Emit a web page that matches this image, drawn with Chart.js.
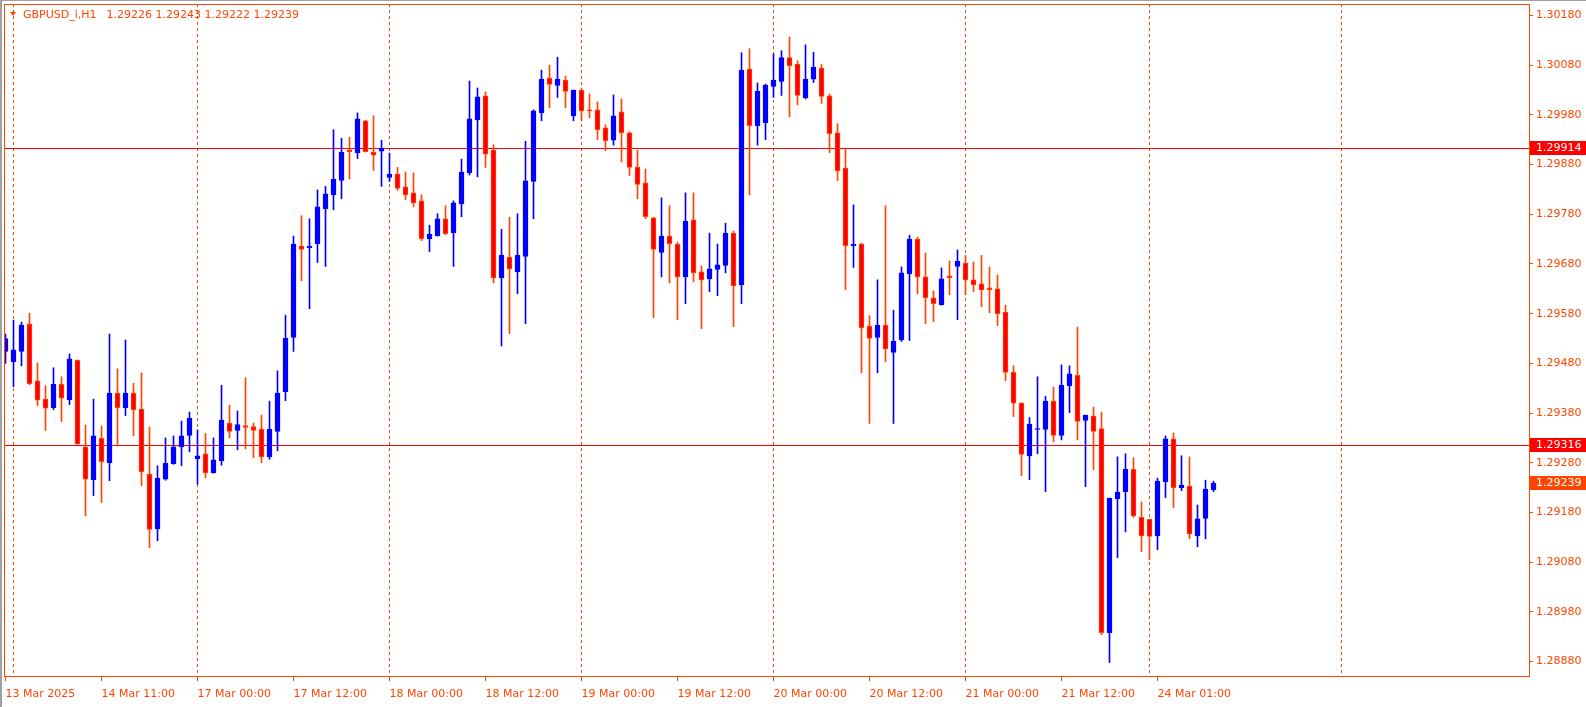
<!DOCTYPE html>
<html>
<head>
<meta charset="utf-8">
<script src="https://cdn.jsdelivr.net/npm/chart.js@4.4.1/dist/chart.umd.min.js"></script>
<style>
html, body { margin: 0; padding: 0; background: #fff; overflow: hidden; }
canvas { display: block; }
</style>
</head>
<body>
<canvas id="chart" width="1586" height="707"></canvas>
<script>
const symbol = 'GBPUSD_i,H1';

// hourly candles, 13 Mar 23:00 .. 24 Mar 08:00
const opens = [
  1.29504,1.29483,1.29504,1.29559,1.29445,1.29408,1.29391,1.29438,1.29407,1.29486,
  1.29312,1.29246,1.29329,1.29280,1.29420,1.29391,1.29420,1.29388,1.29257,1.29147,
  1.29247,1.29278,1.29312,1.29335,1.29288,1.29298,1.29260,1.29284,1.29360,1.29345,
  1.29355,1.29353,1.29348,1.29292,1.29343,1.29423,1.29532,1.29716,1.29713,1.29721,
  1.29791,1.29819,1.29848,1.29909,1.29904,1.29968,1.29905,1.29907,1.29854,1.29861,
  1.29835,1.29823,1.29807,1.29731,1.29737,1.29771,1.29743,1.29801,1.29863,1.29970,
  1.30018,1.29909,1.29652,1.29694,1.29664,1.29695,1.29846,1.29984,1.30054,1.30039,
  1.30050,1.29978,1.30030,1.29990,1.29990,1.29954,1.29929,1.29986,1.29944,1.29875,
  1.29843,1.29773,1.29703,1.29736,1.29720,1.29654,1.29769,1.29664,1.29650,1.29669,
  1.29677,1.29742,1.29638,1.30072,1.29958,1.29964,1.30037,1.30047,1.30095,1.30082,
  1.30014,1.30052,1.30074,1.30018,1.29944,1.29873,1.29717,1.29720,1.29555,1.29532,
  1.29557,1.29502,1.29527,1.29660,1.29730,1.29654,1.29612,1.29598,1.29656,1.29675,
  1.29682,1.29648,1.29640,1.29632,1.29630,1.29583,1.29462,1.29400,1.29294,1.29347,
  1.29347,1.29404,1.29335,1.29435,1.29456,1.29365,1.29374,1.29349,1.28938,1.29208,
  1.29222,1.29267,1.29170,1.29166,1.29133,1.29242,1.29328,1.29230,1.29233,1.29133,
  1.29168,1.29226
];
const highs = [
  1.29539,1.29567,1.29563,1.29581,1.29481,1.29435,1.29471,1.29453,1.29499,1.29487,
  1.29356,1.29408,1.29354,1.29539,1.29469,1.29527,1.29440,1.29461,1.29352,1.29274,
  1.29330,1.29334,1.29364,1.29382,1.29346,1.29339,1.29330,1.29436,1.29396,1.29384,
  1.29451,1.29360,1.29376,1.29404,1.29465,1.29577,1.29736,1.29777,1.29771,1.29829,
  1.29836,1.29950,1.29933,1.29935,1.29984,1.29969,1.29978,1.29929,1.29903,1.29874,
  1.29865,1.29863,1.29819,1.29758,1.29781,1.29797,1.29807,1.29891,1.30048,1.30034,
  1.30026,1.29920,1.29750,1.29774,1.29781,1.29927,1.29990,1.30070,1.30080,1.30096,
  1.30058,1.30030,1.30034,1.30022,1.30006,1.29960,1.30020,1.30012,1.29946,1.29909,
  1.29871,1.29774,1.29813,1.29797,1.29724,1.29823,1.29823,1.29676,1.29742,1.29720,
  1.29762,1.29746,1.30105,1.30113,1.30044,1.30042,1.30103,1.30109,1.30137,1.30089,
  1.30121,1.30106,1.30082,1.30022,1.29962,1.29911,1.29799,1.29722,1.29576,1.29648,
  1.29797,1.29587,1.29674,1.29738,1.29734,1.29702,1.29626,1.29672,1.29686,1.29708,
  1.29697,1.29684,1.29697,1.29674,1.29658,1.29597,1.29475,1.29401,1.29371,1.29453,
  1.29414,1.29432,1.29477,1.29475,1.29553,1.29376,1.29392,1.29382,1.29209,1.29292,
  1.29298,1.29290,1.29201,1.29166,1.29249,1.29334,1.29340,1.29294,1.29292,1.29195,
  1.29245,1.29243
];
const lows = [
  1.29480,1.29433,1.29475,1.29437,1.29395,1.29345,1.29387,1.29363,1.29397,1.29317,
  1.29173,1.29214,1.29200,1.29244,1.29317,1.29375,1.29334,1.29234,1.29109,1.29123,
  1.29245,1.29277,1.29274,1.29302,1.29237,1.29250,1.29259,1.29275,1.29330,1.29306,
  1.29308,1.29290,1.29280,1.29287,1.29304,1.29405,1.29504,1.29646,1.29590,1.29683,
  1.29675,1.29789,1.29811,1.29851,1.29892,1.29905,1.29868,1.29836,1.29846,1.29828,
  1.29809,1.29795,1.29727,1.29705,1.29736,1.29739,1.29675,1.29775,1.29859,1.29855,
  1.29874,1.29642,1.29515,1.29540,1.29620,1.29560,1.29771,1.29968,1.29994,1.30015,
  1.29994,1.29968,1.29968,1.29974,1.29930,1.29908,1.29919,1.29885,1.29858,1.29811,
  1.29771,1.29572,1.29654,1.29642,1.29568,1.29600,1.29644,1.29550,1.29624,1.29616,
  1.29662,1.29554,1.29600,1.29819,1.29919,1.29930,1.30015,1.30019,1.29976,1.30000,
  1.30012,1.30045,1.30003,1.29904,1.29848,1.29628,1.29673,1.29461,1.29359,1.29461,
  1.29483,1.29359,1.29524,1.29526,1.29620,1.29560,1.29564,1.29597,1.29618,1.29568,
  1.29618,1.29624,1.29594,1.29582,1.29556,1.29445,1.29373,1.29254,1.29246,1.29298,
  1.29222,1.29322,1.29326,1.29381,1.29326,1.29232,1.29266,1.28934,1.28878,1.29089,
  1.29141,1.29170,1.29101,1.29085,1.29105,1.29210,1.29190,1.29224,1.29127,1.29111,
  1.29127,1.29222
];
const closes = [
  1.29530,1.29507,1.29557,1.29439,1.29406,1.29390,1.29438,1.29410,1.29489,1.29318,
  1.29247,1.29334,1.29282,1.29420,1.29391,1.29420,1.29387,1.29262,1.29146,1.29249,
  1.29279,1.29312,1.29334,1.29370,1.29294,1.29260,1.29286,1.29366,1.29343,1.29357,
  1.29351,1.29345,1.29292,1.29348,1.29420,1.29531,1.29720,1.29709,1.29716,1.29795,
  1.29821,1.29851,1.29905,1.29906,1.29972,1.29906,1.29899,1.29913,1.29861,1.29832,
  1.29819,1.29803,1.29731,1.29740,1.29771,1.29741,1.29803,1.29865,1.29972,1.30016,
  1.29901,1.29652,1.29698,1.29670,1.29698,1.29847,1.29988,1.30052,1.30041,1.30052,
  1.30027,1.30030,1.29988,1.29988,1.29950,1.29928,1.29978,1.29944,1.29874,1.29840,
  1.29775,1.29709,1.29736,1.29721,1.29654,1.29766,1.29662,1.29648,1.29670,1.29678,
  1.29742,1.29636,1.30070,1.29958,1.30028,1.30040,1.30050,1.30095,1.30079,1.30019,
  1.30052,1.30076,1.30017,1.29942,1.29867,1.29717,1.29720,1.29552,1.29530,1.29557,
  1.29509,1.29525,1.29662,1.29730,1.29654,1.29612,1.29600,1.29650,1.29652,1.29686,
  1.29648,1.29638,1.29628,1.29628,1.29580,1.29462,1.29400,1.29297,1.29358,1.29349,
  1.29404,1.29335,1.29436,1.29459,1.29363,1.29376,1.29343,1.28938,1.29209,1.29221,
  1.29267,1.29173,1.29133,1.29132,1.29243,1.29328,1.29230,1.29235,1.29137,1.29167,
  1.29227,1.29239
];

// time axis: bar index of each label, and day separators
const tickIdx = [0, 12, 24, 36, 48, 60, 72, 84, 96, 108, 120, 132, 144];
const tickLabels = ['13 Mar 2025', '14 Mar 11:00', '17 Mar 00:00', '17 Mar 12:00', '18 Mar 00:00',
  '18 Mar 12:00', '19 Mar 00:00', '19 Mar 12:00', '20 Mar 00:00', '20 Mar 12:00',
  '21 Mar 00:00', '21 Mar 12:00', '24 Mar 01:00'];
const daySeparators = [1, 24, 48, 72, 96, 120, 143, 167];

const priceTicks = [1.2888, 1.2898, 1.2908, 1.2918, 1.2928, 1.2938, 1.2948,
  1.2958, 1.2968, 1.2978, 1.2988, 1.2998, 1.3008, 1.3018];
const levelLines = [1.29914, 1.29316];

const orange = '#ff4500';
const bull = '#0000ff';
const bearFill = '#ff0000';
const levelColor = '#ff0000';
const font = {family: 'DejaVu Sans', size: 11};
const clear = 'rgba(0,0,0,0)';

const isBull = i => closes[i] >= opens[i];

const mtDecor = {
  id: 'mtDecor',
  beforeDatasetsDraw(chart) {
    const {ctx, chartArea: a, scales: {y}} = chart;
    ctx.save();
    ctx.strokeStyle = levelColor;
    ctx.lineWidth = 1;
    levelLines.forEach(v => {
      const py = Math.round(y.getPixelForValue(v)) + 0.5;
      ctx.beginPath();
      ctx.moveTo(a.left, py);
      ctx.lineTo(a.right, py);
      ctx.stroke();
    });
    ctx.restore();
  },
  afterDraw(chart) {
    const {ctx, chartArea: a, scales: {y}, width, height} = chart;
    ctx.save();
    // window edges
    ctx.fillStyle = '#a0a0a0';
    ctx.fillRect(0, 0, width, 1);
    ctx.fillRect(0, 0, 2, height);
    // frame
    ctx.strokeStyle = orange;
    ctx.lineWidth = 1;
    ctx.strokeRect(a.left + 0.5, a.top + 0.5, a.right - a.left, a.bottom - a.top);

    ctx.font = font.size + 'px "' + font.family + '"';
    ctx.textBaseline = 'middle';
    const box = (v, bg) => {
      const py = Math.round(y.getPixelForValue(v));
      ctx.fillStyle = bg;
      ctx.fillRect(a.right + 1, py - 7, width - a.right - 1, 14);
      ctx.fillStyle = '#ffffff';
      ctx.textAlign = 'left';
      ctx.fillText(v.toFixed(5), a.right + 7, py + 0.5);
    };
    levelLines.forEach(v => box(v, levelColor));
    const last = closes.length - 1;
    box(closes[last], orange);

    // title
    ctx.fillStyle = orange;
    ctx.beginPath();
    ctx.moveTo(a.left + 6, a.top + 8);
    ctx.lineTo(a.left + 12, a.top + 8);
    ctx.lineTo(a.left + 9, a.top + 12);
    ctx.closePath();
    ctx.fill();
    const tx = a.left + 19;
    const ty = a.top + 11;
    ctx.fillText(symbol, tx, ty);
    const vals = [opens[last], highs[last], lows[last], closes[last]].map(v => v.toFixed(5)).join(' ');
    ctx.fillText(vals, tx + ctx.measureText(symbol).width + 10, ty);
    ctx.restore();
  }
};

new Chart(document.getElementById('chart'), {
  type: 'bar',
  data: {
    datasets: [
      {
        label: 'wick',
        data: opens.map((o, i) => ({x: i, y: [lows[i], highs[i]]})),
        backgroundColor: c => isBull(c.dataIndex) ? bull : orange,
        borderWidth: 0,
        barThickness: 1,
        maxBarThickness: 1,
        grouped: false,
        order: 2
      },
      {
        label: 'body',
        data: opens.map((o, i) => ({x: i, y: [o, closes[i]]})),
        backgroundColor: c => isBull(c.dataIndex) ? bull : bearFill,
        borderColor: c => isBull(c.dataIndex) ? bull : orange,
        borderWidth: 1,
        borderSkipped: false,
        barThickness: 5,
        maxBarThickness: 5,
        minBarLength: 1,
        grouped: false,
        order: 1
      }
    ]
  },
  options: {
    responsive: false,
    devicePixelRatio: 1,
    animation: false,
    layout: {padding: {left: 4, top: 4, right: 0, bottom: 0}},
    plugins: {legend: {display: false}, tooltip: {enabled: false}},
    scales: {
      x: {
        type: 'linear',
        position: 'bottom',
        min: -0.1875,
        max: 190.4375,
        offset: false,
        afterBuildTicks: s => {
          s.ticks = [...new Set([...tickIdx, ...daySeparators])].sort((p, q) => p - q).map(v => ({value: v}));
        },
        afterFit: s => { s.height = 31; s.paddingLeft = 0; s.paddingRight = 0; },
        ticks: {
          autoSkip: false,
          maxRotation: 0,
          minRotation: 0,
          align: 'start',
          padding: 7,
          color: orange,
          font: font,
          callback: v => {
            const k = tickIdx.indexOf(v);
            return k >= 0 ? tickLabels[k] : '';
          }
        },
        grid: {
          offset: false,
          drawOnChartArea: true,
          drawTicks: true,
          tickLength: 5,
          lineWidth: 1,
          color: c => (c.tick && daySeparators.includes(c.tick.value)) ? orange : clear,
          tickColor: c => (c.tick && tickIdx.includes(c.tick.value)) ? orange : clear
        },
        border: {display: false, dash: [3, 3]}
      },
      y: {
        type: 'linear',
        position: 'right',
        min: 1.28851,
        max: 1.30203,
        beginAtZero: false,
        afterBuildTicks: s => { s.ticks = priceTicks.map(v => ({value: v})); },
        afterFit: s => { s.width = 57; s.paddingTop = 0; s.paddingBottom = 0; },
        ticks: {
          padding: 3,
          color: orange,
          font: font,
          crossAlign: 'near',
          callback: v => v.toFixed(5)
        },
        grid: {
          drawOnChartArea: false,
          drawTicks: true,
          tickLength: 4,
          tickColor: orange
        },
        border: {display: false}
      }
    }
  },
  plugins: [mtDecor]
});
</script>
</body>
</html>
